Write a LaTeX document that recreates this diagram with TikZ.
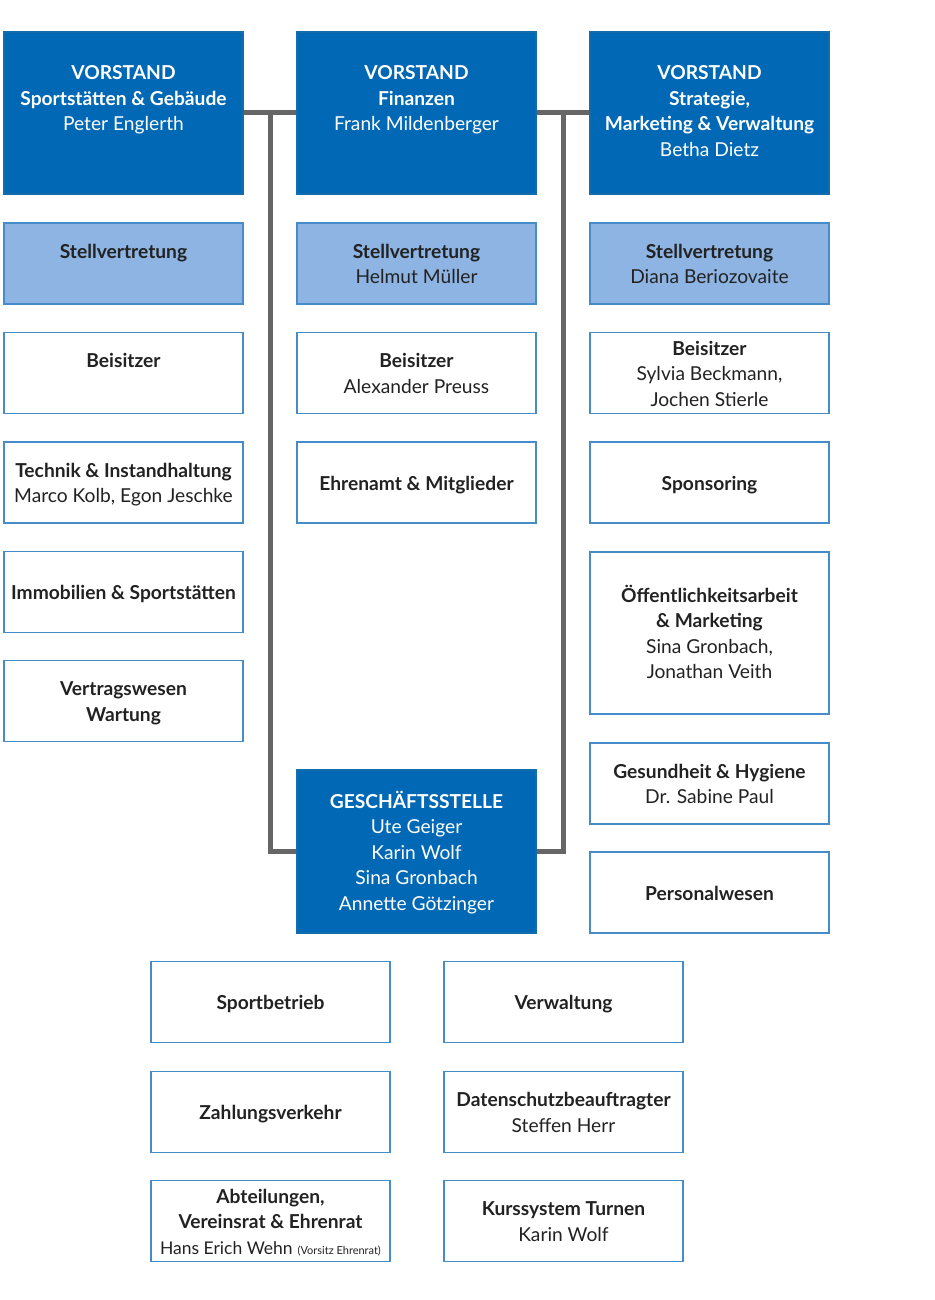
\documentclass[tikz,border=0pt]{standalone}
\usepackage{fontspec}
\setmainfont{Lato}
\definecolor{darkblue}{RGB}{0,104,180}
\definecolor{lightblue}{RGB}{141,180,226}
\definecolor{boxborder}{RGB}{70,140,200}
\definecolor{txtdark}{RGB}{34,34,34}
\definecolor{conngray}{RGB}{102,102,102}
% explicit struts for first / last text line
\newcommand{\strA}{\rule{0pt}{20pt}}
\newcommand{\strZ}{\rule[-5pt]{0pt}{5pt}}
\newcommand{\strTA}{\rule{0pt}{18pt}}
\newcommand{\strTZ}{\rule[-7.5pt]{0pt}{7.5pt}}
\tikzset{
  base/.style={rectangle, inner sep=0pt, minimum width=239pt, align=center,
    font=\fontsize{19.2}{25.5}\selectfont, line width=1.2pt},
  small/.style={minimum height=81pt},
  tall/.style={minimum height=162pt},
  dark/.style={base, fill=darkblue, draw=darkblue!85!gray, text=white},
  light/.style={base, small, fill=lightblue, draw=boxborder, text=txtdark},
  plain/.style={base, small, fill=white, draw=boxborder, text=txtdark},
  conn/.style={draw=conngray, line width=5pt}
}
\begin{document}
\begin{tikzpicture}[x=1pt,y=-1pt]
\useasboundingbox[fill=white] (0,0) rectangle (934,1300);
% junction coordinates
\coordinate (jl) at (270,113);
\coordinate (jr) at (563,113);
% top boards
\node[dark, tall] (v1) at (123.5,113) {\strTA\textbf{VORSTAND}\\\textbf{Sportstätten \& Gebäude}\\Peter Englerth\\\strTZ};
\node[dark, tall] (v2) at (416.5,113) {\strTA\textbf{VORSTAND}\\\textbf{Finanzen}\\Frank Mildenberger\\\strTZ};
\node[dark, tall] (v3) at (709.5,113) {\strTA\textbf{VORSTAND}\\\textbf{Strategie,}\\\textbf{Marketing \& Verwaltung}\\Betha Dietz\strTZ};
% Geschäftsstelle
\node[dark, minimum height=163pt] (gs) at (416.5,851.5) {\strA\textbf{GESCHÄFTSSTELLE}\\Ute Geiger\\Karin Wolf\\Sina Gronbach\\Annette Götzinger\strZ};
% connectors
\draw[conn] (v1.east |- jl) -- (v2.west |- jl);
\draw[conn] (v2.east |- jr) -- (v3.west |- jr);
\draw[conn] (jl) |- (gs.west);
\draw[conn] (jr) |- (gs.east);
% Stellvertretung
\node[light] (s1) at (123.5,263.5) {\strA\textbf{Stellvertretung}\\\strZ};
\node[light] (s2) at (416.5,263.5) {\strA\textbf{Stellvertretung}\\Helmut Müller\strZ};
\node[light] (s3) at (709.5,263.5) {\strA\textbf{Stellvertretung}\\Diana Beriozovaite\strZ};
% Beisitzer
\node[plain] (b1) at (123.5,373) {\strA\textbf{Beisitzer}\\\strZ};
\node[plain] (b2) at (416.5,373) {\strA\textbf{Beisitzer}\\Alexander Preuss\strZ};
\node[plain] (b3) at (709.5,373) {\strA\textbf{Beisitzer}\\Sylvia Beckmann,\\Jochen Stierle\strZ};
% row 4
\node[plain] (a4) at (123.5,482.5) {\strA\textbf{Technik \& Instandhaltung}\\Marco Kolb, Egon Jeschke\strZ};
\node[plain] (b4) at (416.5,482.5) {\strA\textbf{Ehrenamt \& Mitglieder}\strZ};
\node[plain] (c4) at (709.5,482.5) {\strA\textbf{Sponsoring}\strZ};
% left column rest
\node[plain] (a5) at (123.5,592) {\strA\textbf{Immobilien \& Sportstätten}\strZ};
\node[plain] (a6) at (123.5,701) {\strA\textbf{Vertragswesen}\\\textbf{Wartung}\strZ};
% right column rest
\node[plain, tall] (c5) at (709.5,633) {\strA\textbf{Öffentlichkeitsarbeit}\\\textbf{\& Marketing}\\Sina Gronbach,\\Jonathan Veith\strZ};
\node[plain] (c6) at (709.5,783.5) {\strA\textbf{Gesundheit \& Hygiene}\\Dr. Sabine Paul\strZ};
\node[plain] (c7) at (709.5,892.5) {\strA\textbf{Personalwesen}\strZ};
% bottom
\node[plain] (d1) at (270.5,1002) {\strA\textbf{Sportbetrieb}\strZ};
\node[plain] (e1) at (563.5,1002) {\strA\textbf{Verwaltung}\strZ};
\node[plain] (d2) at (270.5,1112) {\strA\textbf{Zahlungsverkehr}\strZ};
\node[plain] (e2) at (563.5,1112) {\strA\textbf{Datenschutzbeauftragter}\\Steffen Herr\strZ};
\node[plain] (d3) at (270.5,1221) {\strA\textbf{Abteilungen,}\\\textbf{Vereinsrat \& Ehrenrat}\\{\fontsize{17.5}{25.5}\selectfont Hans Erich Wehn} {\fontsize{11}{13}\selectfont(Vorsitz Ehrenrat)}\strZ};
\node[plain] (e3) at (563.5,1221) {\strA\textbf{Kurssystem Turnen}\\Karin Wolf\strZ};
\end{tikzpicture}
\end{document}
